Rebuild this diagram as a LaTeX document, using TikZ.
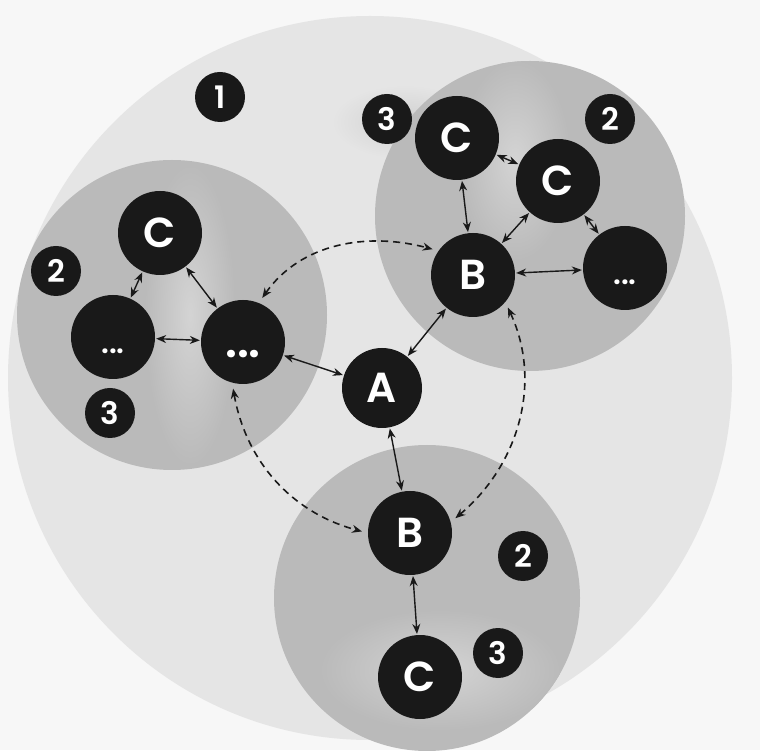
\documentclass[tikz,border=0pt]{standalone}
\usepackage{fontspec}
\setmainfont{Poppins}[BoldFont={Poppins SemiBold}]
\usetikzlibrary{arrows.meta}
\definecolor{bgc}{gray}{0.97}
\definecolor{outerc}{gray}{0.90}
\definecolor{midc}{gray}{0.73}
\definecolor{lightc}{gray}{0.83}
\definecolor{nodec}{gray}{0.10}
\begin{document}
\begin{tikzpicture}[x=1pt,y=1pt,
  big/.style={circle,fill=nodec,minimum size=84pt,inner sep=0pt,text=white,font=\bfseries\fontsize{42}{42}\selectfont},
  num/.style={circle,fill=nodec,minimum size=50pt,inner sep=0pt,text=white,font=\bfseries\fontsize{31}{31}\selectfont},
  dotsbig/.style={big,font=\bfseries\fontsize{46}{46}\selectfont,text height=32pt,text depth=0pt},
  dotssmall/.style={big,font=\bfseries\fontsize{30}{30}\selectfont,text height=34pt,text depth=0pt},
  link/.style={{Stealth[length=10pt,width=8pt]}-{Stealth[length=10pt,width=8pt]},line width=1.4pt,draw=nodec,shorten <=1pt,shorten >=1pt},
  dlink/.style={link,dash pattern=on 7pt off 5pt,line width=1.6pt,shorten <=6pt,shorten >=6pt}]
\useasboundingbox (0,0) rectangle (760,750);
\clip (0,0) rectangle (760,750);
\fill[bgc] (0,0) rectangle (760,750);
% background discs
\fill[outerc] (370,372) circle (362);
\shade[inner color=lightc!85!midc, outer color=outerc] (405,628) ellipse (75 and 38);
\fill[midc] (172,435) circle (155);
\fill[midc] (530,534) circle (155);
\fill[midc] (427,152) circle (153);
\begin{scope}
  \clip (172,435) circle (155);
  \shade[inner color=lightc, outer color=midc] (190,435) ellipse (45 and 150);
\end{scope}
\begin{scope}
  \clip (530,534) circle (155);
  \shade[inner color=lightc, outer color=midc] (515,590) ellipse (55 and 100);
\end{scope}
\begin{scope}
  \clip (427,152) circle (153);
  \shade[inner color=lightc, outer color=midc] (440,80) ellipse (120 and 60);
\end{scope}
% nodes
\node[num] (one) at (220,653) {1};
\node[num] (t3) at (387,631) {3};
\node[num] (t2) at (610,631) {2};
\node[big] (tc1) at (457,612) {C};
\node[big] (tc2) at (558,569) {C};
\node[big] (b1) at (473,475) {B};
\node[dotssmall] (td) at (625,482) {...};
\node[big] (lc) at (160,517) {C};
\node[num] (l2) at (56,479) {2};
\node[dotssmall] (ld) at (113,413) {...};
\node[dotsbig] (d2) at (243,408) {...};
\node[num] (l3) at (110,337) {3};
\node[big,minimum size=80pt] (a) at (382,362) {A};
\node[big] (b2) at (410,217) {B};
\node[num] (b22) at (523,194) {2};
\node[big] (c3) at (420,73) {C};
\node[num] (b3) at (498,97) {3};
% solid links
\draw[link] (tc1) -- (tc2);
\draw[link] (tc1) -- (b1);
\draw[link] (tc2) -- (b1);
\draw[link] (tc2) -- (td);
\draw[link] (b1) -- (td);
\draw[link] (b1) -- (a);
\draw[link] (a) -- (d2);
\draw[link] (a) -- (b2);
\draw[link] (b2) -- (c3);
\draw[link] (lc) -- (ld);
\draw[link] (lc) -- (d2);
\draw[link] (ld) -- (d2);
% dashed links
\draw[dlink] (d2.68) to[out=55,in=165] (b1.145);
\draw[dlink] (b1.-40) to[out=-65,in=40] (b2.15);
\draw[dlink] (d2.-105) to[out=-80,in=165] (b2.180);
\end{tikzpicture}
\end{document}
